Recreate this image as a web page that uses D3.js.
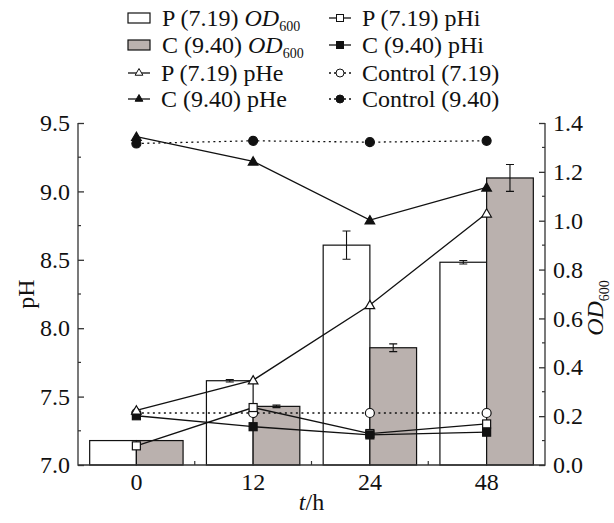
<!DOCTYPE html>
<html>
<head>
<meta charset="utf-8">
<script src="https://cdn.jsdelivr.net/npm/d3@7"></script>
<style>
  body { margin: 0; background: #fff; }
  svg text { font-family: "Liberation Serif", "Times New Roman", serif; fill: #111; }
</style>
</head>
<body>
<div id="chart"></div>
<script>
// time points (h)
const categories = ["0", "12", "24", "48"];

// OD600 bars (right axis)
const odP = [0.10, 0.345, 0.90, 0.83];
const odPErr = [0, 0.005, 0.058, 0.007];
const odC = [0.10, 0.24, 0.48, 1.175];
const odCErr = [0, 0.005, 0.016, 0.055];

// pH lines (left axis)
const pHeP = [7.40, 7.62, 8.17, 8.84];
const pHeC = [9.40, 9.22, 8.79, 9.03];
const pHiP = [7.14, 7.42, 7.23, 7.30];
const pHiC = [7.36, 7.28, 7.22, 7.24];
const ctrlP = [7.38, 7.38, 7.38, 7.38];
const ctrlC = [9.35, 9.37, 9.36, 9.37];

const pHTicks = [7.0, 7.5, 8.0, 8.5, 9.0, 9.5];
const odTicks = [0.0, 0.2, 0.4, 0.6, 0.8, 1.0, 1.2, 1.4];

const width = 614, height = 523;
const margin = { left: 78, right: 69, top: 123, bottom: 58 };
const x0 = margin.left, x1 = width - margin.right;
const y0 = height - margin.bottom, y1 = margin.top;
const serif = "Liberation Serif, serif";

const svg = d3.select("#chart").append("svg")
  .attr("width", width).attr("height", height);

const x = d3.scaleBand().domain(categories).range([x0, x1]).padding(0);
const yL = d3.scaleLinear().domain([7.0, 9.5]).range([y0, y1]);
const yR = d3.scaleLinear().domain([0, 1.4]).range([y0, y1]);
const barW = x.bandwidth() * 0.4;
const cx = c => x(c) + x.bandwidth() / 2;

// bars
const barGroup = svg.append("g");
function drawBars(vals, errs, offset, fill) {
  categories.forEach((c, i) => {
    barGroup.append("rect")
      .attr("x", cx(c) + offset).attr("y", yR(vals[i]))
      .attr("width", barW).attr("height", y0 - yR(vals[i]))
      .attr("fill", fill).attr("stroke", "#111").attr("stroke-width", 1.2);
    if (errs[i] > 0) {
      const ex = cx(c) + offset + barW / 2;
      const ya = yR(vals[i] + errs[i]), yb = yR(vals[i] - errs[i]);
      barGroup.append("path")
        .attr("d", `M${ex},${ya}V${yb}M${ex - 4},${ya}H${ex + 4}M${ex - 4},${yb}H${ex + 4}`)
        .attr("stroke", "#111").attr("stroke-width", 1.1).attr("fill", "none");
    }
  });
}
drawBars(odP, odPErr, -barW, "#fff");
drawBars(odC, odCErr, 0, "#bab1ae");

// axes
const ax = svg.append("g").attr("stroke", "#333").attr("stroke-width", 1.3).attr("fill", "none");
ax.append("path").attr("d", `M${x0},${y1}V${y0}H${x1}V${y1}`);

const leftAxis = d3.axisLeft(yL).tickValues(pHTicks).tickFormat(d3.format(".1f")).tickSize(-6).tickPadding(8);
const gl = svg.append("g").attr("transform", `translate(${x0},0)`).call(leftAxis);
const minorL = d3.range(7.25, 9.5, 0.5);
gl.selectAll(".minor").data(minorL).join("line").attr("class", "minor")
  .attr("x1", 0).attr("x2", 3).attr("y1", d => yL(d)).attr("y2", d => yL(d))
  .attr("stroke", "#333").attr("stroke-width", 1.2);

const rightAxis = d3.axisRight(yR).tickValues(odTicks).tickFormat(d3.format(".1f")).tickSize(-6).tickPadding(8);
const gr = svg.append("g").attr("transform", `translate(${x1},0)`).call(rightAxis);
const minorR = d3.range(0.1, 1.4, 0.2);
gr.selectAll(".minor").data(minorR).join("line").attr("class", "minor")
  .attr("x1", 0).attr("x2", -3).attr("y1", d => yR(d)).attr("y2", d => yR(d))
  .attr("stroke", "#333").attr("stroke-width", 1.2);

const bottomAxis = d3.axisBottom(x).tickSize(0).tickPadding(8);
const gb = svg.append("g").attr("transform", `translate(0,${y0})`).call(bottomAxis);
gb.selectAll(".bound").data(categories.slice(1)).join("line").attr("class", "bound")
  .attr("x1", d => x(d)).attr("x2", d => x(d)).attr("y1", 0).attr("y2", -4)
  .attr("stroke", "#333").attr("stroke-width", 1.2);

[gl, gr, gb].forEach(g => {
  g.attr("font-family", serif);
  g.select(".domain").remove();
  g.selectAll(".tick line").attr("stroke", "#333").attr("stroke-width", 1.3);
  g.selectAll(".tick text").attr("font-size", 24).attr("fill", "#111")
    .attr("font-family", serif);
});

// axis titles
svg.append("text").attr("transform", `translate(34,${(y0 + y1) / 2}) rotate(-90)`)
  .attr("text-anchor", "middle").attr("font-family", serif).attr("font-size", 24).text("pH");
const odT = svg.append("text").attr("transform", `translate(603,${(y0 + y1) / 2 + 14}) rotate(-90)`)
  .attr("text-anchor", "middle").attr("font-family", serif).attr("font-size", 24);
odT.append("tspan").attr("font-style", "italic").text("OD");
odT.append("tspan").attr("font-size", 14).attr("dy", 6).text("600");
const tT = svg.append("text").attr("x", (x0 + x1) / 2).attr("y", 510)
  .attr("text-anchor", "middle").attr("font-family", serif).attr("font-size", 24);
tT.append("tspan").attr("font-style", "italic").text("t");
tT.append("tspan").text("/h");

// markers
function marker(g, type, px, py, filled) {
  const fill = filled ? "#111" : "#fff";
  let sel;
  if (type === "tri") {
    sel = g.append("path").attr("d", d3.symbol(d3.symbolTriangle, 40)())
      .attr("transform", `translate(${px},${py + 1})`);
  } else if (type === "sq") {
    sel = g.append("rect").attr("x", px - 4).attr("y", py - 4).attr("width", 8).attr("height", 8);
  } else {
    sel = g.append("circle").attr("cx", px).attr("cy", py).attr("r", 4.5);
  }
  sel.attr("fill", fill).attr("stroke", "#111").attr("stroke-width", 1.2);
}

const series = [
  { vals: ctrlP, type: "circ", filled: false, dash: "2,3.5" },
  { vals: ctrlC, type: "circ", filled: true, dash: "2,3.5" },
  { vals: pHiP, type: "sq", filled: false, dash: null },
  { vals: pHiC, type: "sq", filled: true, dash: null },
  { vals: pHeP, type: "tri", filled: false, dash: null },
  { vals: pHeC, type: "tri", filled: true, dash: null }
];
const line = d3.line().x((d, i) => cx(categories[i])).y(d => yL(d));
const lineG = svg.append("g");
const markG = svg.append("g");
series.forEach(s => {
  lineG.append("path").attr("d", line(s.vals)).attr("fill", "none")
    .attr("stroke", "#111").attr("stroke-width", 1.3)
    .attr("stroke-dasharray", s.dash);
  s.vals.forEach((v, i) => marker(markG, s.type, cx(categories[i]), yL(v), s.filled));
});

// legend
const leg = svg.append("g").attr("font-family", serif);
const rows = [18, 45, 73, 99];
const legFont = 24;
const legBars = [
  { label: "P (7.19) ", fill: "#fff" },
  { label: "C (9.40) ", fill: "#bab1ae" }
];
legBars.forEach((b, i) => {
  leg.append("rect").attr("x", 128).attr("y", rows[i] - 5).attr("width", 22).attr("height", 10)
    .attr("fill", b.fill).attr("stroke", "#111").attr("stroke-width", 1.2);
  const t = leg.append("text").attr("x", 162).attr("y", rows[i] + 8)
    .attr("font-family", serif).attr("font-size", legFont);
  t.append("tspan").text(b.label);
  t.append("tspan").attr("font-style", "italic").text("OD");
  t.append("tspan").attr("font-size", 14).attr("dy", 5).text("600");
});
const legLines = [
  { label: "P (7.19) pHe", type: "tri", filled: false, dash: null, col: 0, row: 2 },
  { label: "C (9.40) pHe", type: "tri", filled: true, dash: null, col: 0, row: 3 },
  { label: "P (7.19) pHi", type: "sq", filled: false, dash: null, col: 1, row: 0 },
  { label: "C (9.40) pHi", type: "sq", filled: true, dash: null, col: 1, row: 1 },
  { label: "Control (7.19)", type: "circ", filled: false, dash: "2,3", col: 1, row: 2 },
  { label: "Control (9.40)", type: "circ", filled: true, dash: "2,3", col: 1, row: 3 }
];
legLines.forEach(l => {
  const lx = l.col === 0 ? 128 : 329;
  const ly = rows[l.row];
  leg.append("path").attr("d", `M${lx},${ly}H${lx + 22}`).attr("stroke", "#111")
    .attr("stroke-width", 1.3).attr("stroke-dasharray", l.dash);
  if (l.type === "tri") {
    leg.append("path").attr("d", d3.symbol(d3.symbolTriangle, 26)())
      .attr("transform", `translate(${lx + 11},${ly})`)
      .attr("fill", l.filled ? "#111" : "#fff").attr("stroke", "#111").attr("stroke-width", 1);
  } else if (l.type === "sq") {
    leg.append("rect").attr("x", lx + 7.5).attr("y", ly - 3.5).attr("width", 7).attr("height", 7)
      .attr("fill", l.filled ? "#111" : "#fff").attr("stroke", "#111").attr("stroke-width", 1);
  } else {
    leg.append("circle").attr("cx", lx + 11).attr("cy", ly).attr("r", 4)
      .attr("fill", l.filled ? "#111" : "#fff").attr("stroke", "#111").attr("stroke-width", 1);
  }
  leg.append("text").attr("x", lx + 33).attr("y", ly + 8)
    .attr("font-family", serif).attr("font-size", legFont).text(l.label);
});
</script>
</body>
</html>
